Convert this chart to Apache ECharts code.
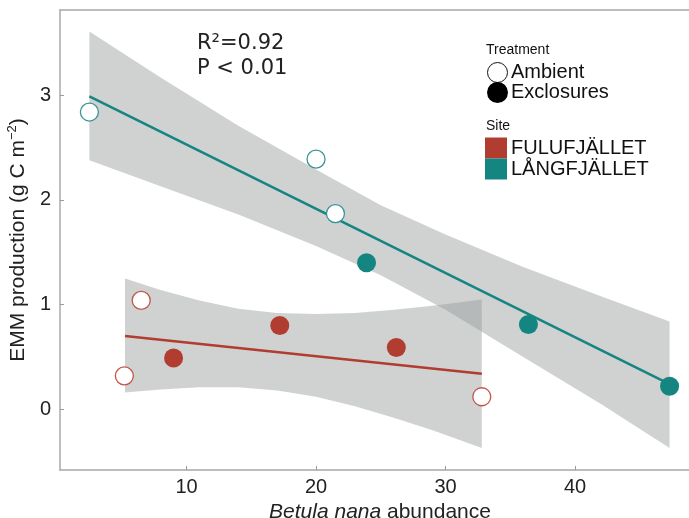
<!DOCTYPE html>
<html>
<head>
<meta charset="utf-8">
<script src="https://cdn.jsdelivr.net/npm/echarts@6/dist/echarts.min.js"></script>
<style>html,body{margin:0;padding:0;background:#fff}#c{width:689px;height:518px}</style>
</head>
<body>
<div id="c"></div>
<script>
// ---- data ----
const xTicks = [10, 20, 30, 40];
const yTicks = [0, 1, 2, 3];

// Långfjället (teal)
const langAmbientX = [2.5, 20.0, 21.5];
const langAmbientY = [2.84, 2.39, 1.87];
const langExclX = [23.9, 36.4, 47.3];
const langExclY = [1.40, 0.81, 0.22];
const langFitX = [2.5, 47.3];
const langFitY = [2.99, 0.24];
const langBandX = [2.5, 8, 14, 20, 25, 30, 36, 42, 47.3];
const langBandUpper = [3.61, 3.17, 2.71, 2.29, 1.95, 1.67, 1.36, 1.08, 0.84];
const langBandLower = [2.38, 2.13, 1.86, 1.56, 1.28, 0.95, 0.50, 0.05, -0.37];

// Fulufjället (red)
const fuluAmbientX = [5.2, 6.5, 32.8];
const fuluAmbientY = [0.32, 1.04, 0.12];
const fuluExclX = [9.0, 17.2, 26.2];
const fuluExclY = [0.49, 0.80, 0.59];
const fuluFitX = [5.25, 32.8];
const fuluFitY = [0.70, 0.34];
const fuluBandX = [5.25, 8, 11, 14, 17, 20, 23, 26, 29, 32.8];
const fuluBandUpper = [1.25, 1.14, 1.04, 0.96, 0.92, 0.91, 0.92, 0.95, 0.99, 1.05];
const fuluBandLower = [0.16, 0.19, 0.21, 0.21, 0.18, 0.12, 0.03, -0.08, -0.20, -0.37];

const TEAL = '#158582';
const RED = '#b13c30';
const BAND = 'rgba(150,156,156,0.45)';
const FONT = '"Liberation Sans", Arial, sans-serif';

function zip(xs, ys) { return xs.map((x, i) => [x, ys[i]]); }

function bandSeries(bx, up, lo, z) {
  return {
    type: 'custom',
    z: z,
    clip: true,
    silent: true,
    data: [[bx[0], up[0]]],
    renderItem: function (params, api) {
      const pts = [];
      for (let i = 0; i < bx.length; i++) pts.push(api.coord([bx[i], up[i]]));
      for (let i = bx.length - 1; i >= 0; i--) pts.push(api.coord([bx[i], lo[i]]));
      return { type: 'polygon', shape: { points: pts }, style: { fill: BAND } };
    }
  };
}

const chart = echarts.init(document.getElementById('c'), null, { renderer: 'canvas' });
const axisLineStyle = { color: '#a8a8a8', width: 1.5 };

chart.setOption({
  animation: false,
  backgroundColor: '#fff',
  grid: { left: 60, top: 10, right: 0, bottom: 48, containLabel: false, outerBoundsMode: 'none' },
  xAxis: [{
    type: 'value', min: 0.23, max: 48.8,
    axisLine: { show: true, onZero: false, lineStyle: axisLineStyle },
    axisTick: { show: true, inside: true, length: 4, customValues: xTicks, lineStyle: { color: '#999' } },
    axisLabel: { customValues: xTicks, fontSize: 20, fontFamily: FONT, color: '#222', margin: 7 },
    splitLine: { show: false },
    name: '{i|Betula nana} abundance',
    nameLocation: 'middle', nameGap: 18,
    nameTextStyle: { fontSize: 21, fontFamily: FONT, color: '#222', padding: [0, 0, 0, 11],
      rich: { i: { fontSize: 21, fontFamily: FONT, fontStyle: 'italic', color: '#222' } } }
  }, {
    type: 'value', min: 0.23, max: 48.8, position: 'top',
    axisLine: { show: true, onZero: false, lineStyle: axisLineStyle },
    axisTick: { show: false }, axisLabel: { show: false }, splitLine: { show: false }
  }],
  yAxis: {
    type: 'value', min: -0.58, max: 3.815,
    axisLine: { show: true, onZero: false, lineStyle: axisLineStyle },
    axisTick: { show: true, inside: true, length: 4, customValues: yTicks, lineStyle: { color: '#999' } },
    axisLabel: { customValues: yTicks, fontSize: 20, fontFamily: FONT, color: '#222', margin: 9 },
    splitLine: { show: false },
    name: '{a|EMM production (g C m}{s|−2}{a|)}',
    nameLocation: 'middle', nameRotate: 90, nameGap: 24,
    nameTextStyle: {
      rich: {
        a: { fontSize: 21, fontFamily: FONT, color: '#222', lineHeight: 26 },
        s: { fontSize: 13, fontFamily: FONT, color: '#222', verticalAlign: 'top', lineHeight: 26, padding: [0, 0, 10, 0] }
      }
    }
  },
  series: [
    bandSeries(langBandX, langBandUpper, langBandLower, 1),
    bandSeries(fuluBandX, fuluBandUpper, fuluBandLower, 1),
    { type: 'line', z: 3, data: zip(langFitX, langFitY), symbol: 'none', lineStyle: { color: TEAL, width: 2.6 } },
    { type: 'line', z: 3, data: zip(fuluFitX, fuluFitY), symbol: 'none', lineStyle: { color: RED, width: 2.6 } },
    { type: 'scatter', z: 5, data: zip(langAmbientX, langAmbientY), symbol: 'circle', symbolSize: 18,
      itemStyle: { color: '#fff', borderColor: '#3a9592', borderWidth: 1.3, opacity: 1 } },
    { type: 'scatter', z: 5, data: zip(langExclX, langExclY), symbol: 'circle', symbolSize: 19,
      itemStyle: { color: TEAL, opacity: 1 } },
    { type: 'scatter', z: 5, data: zip(fuluAmbientX, fuluAmbientY), symbol: 'circle', symbolSize: 18,
      itemStyle: { color: '#fff', borderColor: '#c0544a', borderWidth: 1.3, opacity: 1 } },
    { type: 'scatter', z: 5, data: zip(fuluExclX, fuluExclY), symbol: 'circle', symbolSize: 19,
      itemStyle: { color: RED, opacity: 1 } }
  ],
  graphic: [
    { type: 'text', left: 197, top: 33, style: { text: 'R²=0.92', font: '21px "DejaVu Sans"', fill: '#222' } },
    { type: 'text', left: 197, top: 58, style: { text: 'P < 0.01', font: '21px "DejaVu Sans"', fill: '#222' } },
    // legend: treatment
    { type: 'text', left: 486, top: 43, style: { text: 'Treatment', font: '14px "Liberation Sans"', fill: '#111' } },
    { type: 'circle', shape: { cx: 497.5, cy: 72.5, r: 10 }, style: { fill: '#fff', stroke: '#111', lineWidth: 1 } },
    { type: 'text', left: 511, top: 62, style: { text: 'Ambient', font: '20px "Liberation Sans"', fill: '#111' } },
    { type: 'circle', shape: { cx: 497.5, cy: 92.5, r: 10.5 }, style: { fill: '#000' } },
    { type: 'text', left: 511, top: 82, style: { text: 'Exclosures', font: '20px "Liberation Sans"', fill: '#111' } },
    // legend: site
    { type: 'text', left: 486, top: 119, style: { text: 'Site', font: '14px "Liberation Sans"', fill: '#111' } },
    { type: 'rect', shape: { x: 485, y: 137.5, width: 22, height: 21 }, style: { fill: RED } },
    { type: 'rect', shape: { x: 485, y: 158.5, width: 22, height: 21 }, style: { fill: TEAL } },
    { type: 'text', left: 511, top: 138, style: { text: 'FULUFJÄLLET', font: '20px "Liberation Sans"', fill: '#111' } },
    { type: 'text', left: 511, top: 159, style: { text: 'LÅNGFJÄLLET', font: '20px "Liberation Sans"', fill: '#111' } }
  ]
});
</script>
</body>
</html>
